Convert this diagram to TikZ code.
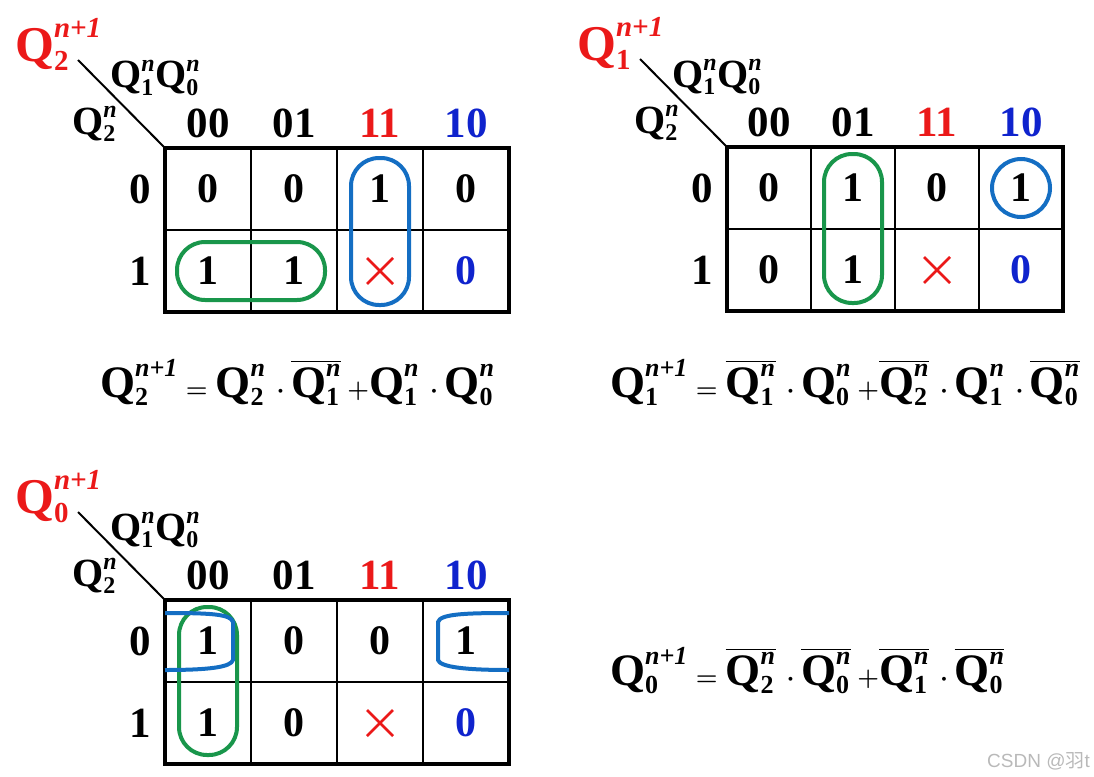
\documentclass[tikz,border=0pt]{standalone}
\usepackage{amsmath}
\usepackage{fontspec}
\setmainfont{Liberation Serif}
\newfontfamily\cjk{Noto Sans CJK SC}
\newfontfamily\wmfont{Liberation Sans}
\DeclareMathSizes{50}{50}{29}{22}
\DeclareMathSizes{45}{45}{26}{20}
\DeclareMathSizes{40}{40}{24}{18}
\definecolor{kred}{RGB}{235,25,25}
\definecolor{kblue}{RGB}{15,35,205}
\definecolor{loopblue}{RGB}{20,110,195}
\definecolor{loopgreen}{RGB}{25,150,75}
\definecolor{wmgray}{RGB}{185,185,185}

\newcommand{\qv}[2]{\text{\bfseries Q}_{\text{\bfseries #1}}^{\text{\bfseries\itshape #2}}}
\newcommand{\dotop}{\mskip3mu\cdot}
\newcommand{\plusop}{\mskip\medmuskip{+}}

\tikzset{
  cellnum/.style={font=\bfseries\fontsize{42}{42}\selectfont, inner sep=0pt},
  hdr/.style={font=\bfseries\fontsize{43}{43}\selectfont, inner sep=0pt},
  maptitle/.style={text=kred, font={\boldmath\fontsize{50}{50}\selectfont}, inner sep=0pt, anchor=base west},
  axislabel/.style={font={\boldmath\fontsize{40}{40}\selectfont}, inner sep=0pt, anchor=base west},
  eqn/.style={font={\boldmath\fontsize{45}{45}\selectfont}, inner sep=0pt, anchor=base west},
  gridline/.style={line width=2pt},
  frameline/.style={line width=3.5pt},
  greenloop/.style={draw=loopgreen, line width=4pt, rounded corners=28pt},
  blueloop/.style={draw=loopblue, line width=4pt, rounded corners=28pt},
  dontcare/.style={draw=kred, line width=2.8pt},
}

% one Karnaugh map: #1 name, #2 grid corner, #3 title index, #4 cell width, #5 first six entries
\newcommand{\kmap}[5]{%
  \begin{scope}[shift={#2}]
    \node[maptitle] (#1-title) at (-150,-87) {$\qv{#3}{n+1}$};
    \node[axislabel] (#1-col) at (-55,-60) {$\qv{1}{n}\qv{0}{n}$};
    \node[axislabel] (#1-row) at (-93,-14) {$\qv{2}{n}$};
    \coordinate (#1-nw) at (0,0);
    \coordinate (#1-tick) at (-87,-88);
    \draw[gridline] (#1-tick) -- (#1-nw);
    \foreach \lbl/\clr [count=\col from 0] in {00/black,01/black,11/kred,10/kblue}
      \node[hdr, text=\clr] (#1-h\col) at ({(\col+0.5)*#4},-25) {\lbl};
    \node[hdr] (#1-r0) at (-25,41) {0};
    \node[hdr] (#1-r1) at (-25,123) {1};
    \foreach \col in {1,2,3}
      \draw[gridline] ({\col*#4},0) -- ({\col*#4},164);
    \draw[gridline] (0,82) -- ({4*#4},82);
    \draw[frameline] (0,0) rectangle ({4*#4},164);
    \foreach \v [count=\i from 0] in {#5} {
      \pgfmathtruncatemacro{\row}{\i/4}
      \pgfmathtruncatemacro{\col}{mod(\i,4)}
      \node[cellnum] (#1-\row-\col) at ({(\col+0.5)*#4},{(\row+0.5)*82}) {\v};
    }
    \coordinate (#1-1-2) at ({2.5*#4},123);
    \draw[dontcare] ([xshift=-13pt,yshift=13pt]#1-1-2) -- ([xshift=13pt,yshift=-13pt]#1-1-2);
    \draw[dontcare] ([xshift=-13pt,yshift=-13pt]#1-1-2) -- ([xshift=13pt,yshift=13pt]#1-1-2);
    \node[cellnum, text=kblue] (#1-1-3) at ({3.5*#4},123) {0};
  \end{scope}}

\begin{document}
\begin{tikzpicture}[x=1pt, y=-1pt]
  \useasboundingbox (0,0) rectangle (1094,776);

  % Q2 map
  \kmap{m1}{(165,148)}{2}{86}{0,0,1,0,1,1}
  \draw[greenloop] ([xshift=-31pt,yshift=29pt]m1-1-0.center) rectangle ([xshift=31pt,yshift=-29pt]m1-1-1.center);
  \draw[blueloop] ([xshift=-29pt,yshift=31pt]m1-0-2.center) rectangle ([xshift=29pt,yshift=-34pt]m1-1-2);

  % Q1 map
  \kmap{m2}{(727,147)}{1}{84}{0,1,0,1,0,1}
  \draw[greenloop] ([xshift=-29pt,yshift=34pt]m2-0-1.center) rectangle ([xshift=29pt,yshift=-33pt]m2-1-1.center);
  \draw[blueloop] (m2-0-3.center) circle[radius=29pt];

  % Q0 map
  \kmap{m3}{(165,600)}{0}{86}{1,0,0,1,1,0}
  \draw[greenloop] ([xshift=-29pt,yshift=34pt]m3-0-0.center) rectangle ([xshift=29pt,yshift=-32pt]m3-1-0.center);
  \begin{scope}[shift={(165,600)}]
    \draw[loopblue, line width=4pt] (0,13) .. controls (45,13) and (66,14) .. (68,22)
      -- (68,60) .. controls (66,67) and (45,70) .. (0,70);
    \draw[loopblue, line width=4pt] (344,13) .. controls (300,13) and (275,14) .. (273,22)
      -- (273,60) .. controls (275,67) and (300,70) .. (344,70);
  \end{scope}

  % equations
  \node[eqn] (eq2) at (100,397) {$\qv{2}{n+1} = \qv{2}{n}\dotop\overline{\qv{1}{n}} \plusop\qv{1}{n}\dotop\qv{0}{n}$};
  \node[eqn] (eq1) at (610,397) {$\qv{1}{n+1} = \overline{\qv{1}{n}}\dotop\qv{0}{n} \plusop\overline{\qv{2}{n}}\dotop\qv{1}{n}\dotop\overline{\qv{0}{n}}$};
  \node[eqn] (eq0) at (610,685) {$\qv{0}{n+1} = \overline{\qv{2}{n}}\dotop\overline{\qv{0}{n}} \plusop\overline{\qv{1}{n}}\dotop\overline{\qv{0}{n}}$};

  % watermark
  \node[text=wmgray, font=\fontsize{19}{19}\selectfont, inner sep=0pt, anchor=base west] (mark) at (987,767) {\wmfont CSDN @{\cjk 羽}t};
\end{tikzpicture}
\end{document}
